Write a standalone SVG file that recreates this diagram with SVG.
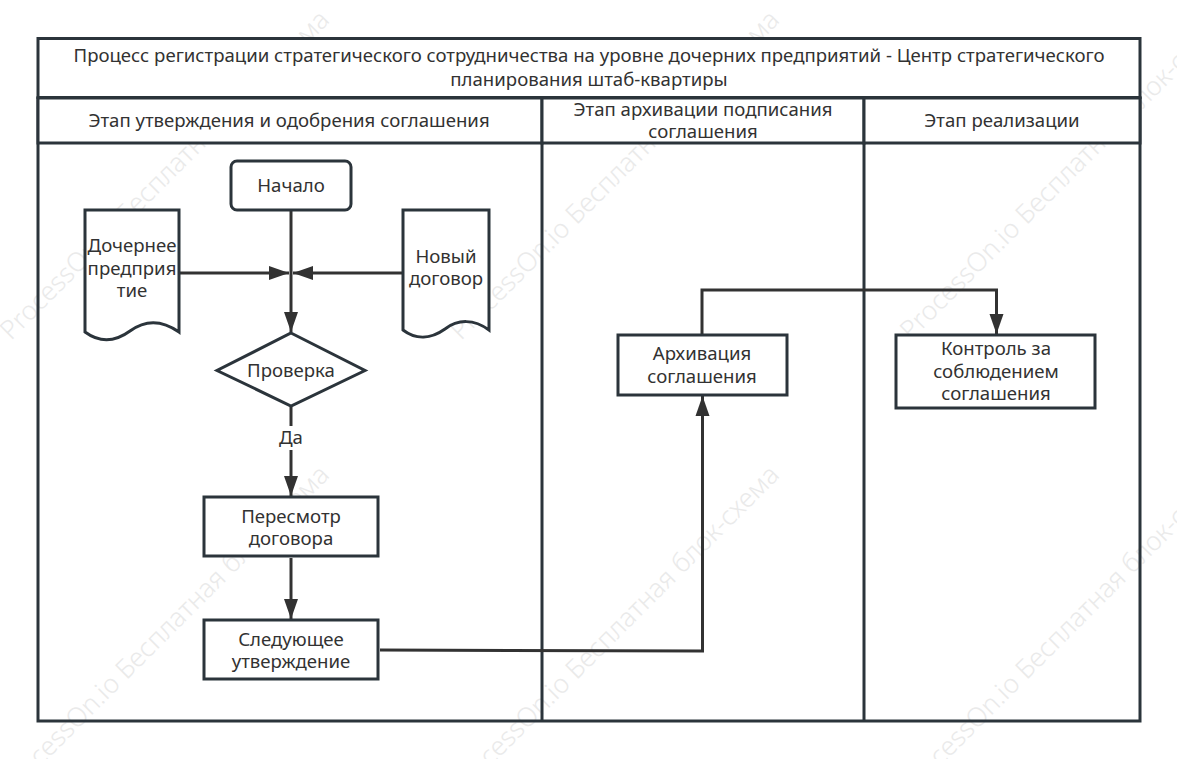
<svg xmlns="http://www.w3.org/2000/svg" width="1177" height="759" viewBox="0 0 1177 759">
<style>
text{font-family:"Noto Sans","Open Sans",sans-serif;font-size:18.6px;fill:#323232;text-anchor:middle}
text.wm{font-size:26.3px;font-weight:300;fill:#eaeaea;text-anchor:start}
.lane{fill:none;stroke:#2b343b;stroke-width:3}
.hd{fill:#fff;stroke:#2b343b;stroke-width:3}
.n{fill:#fff;stroke:#2b343b;stroke-width:3}
.c{fill:none;stroke:#323232;stroke-width:3}
</style>
<defs>
<marker id="a" markerUnits="userSpaceOnUse" markerWidth="20" markerHeight="14" refX="20" refY="7" viewBox="0 0 20 14" orient="auto" overflow="visible"><path d="M0 0L20 7L0 14Z" fill="#323232"/></marker>
</defs>
<g id="watermarks">
<text class="wm" transform="translate(11 341) rotate(-45)">ProcessOn.io Бесплатная блок-схема</text>
<text class="wm" transform="translate(461 341) rotate(-45)">ProcessOn.io Бесплатная блок-схема</text>
<text class="wm" transform="translate(911 341) rotate(-45)">ProcessOn.io Бесплатная блок-схема</text>
<text class="wm" transform="translate(11 796) rotate(-45)">ProcessOn.io Бесплатная блок-схема</text>
<text class="wm" transform="translate(461 796) rotate(-45)">ProcessOn.io Бесплатная блок-схема</text>
<text class="wm" transform="translate(911 796) rotate(-45)">ProcessOn.io Бесплатная блок-схема</text>
</g>
<g id="pool">
<rect class="lane" x="38" y="98" width="1102" height="623"/>
<rect class="hd" x="38" y="38.500" width="1102" height="59"/>
<rect class="hd" x="38" y="98" width="504" height="45"/>
<rect class="hd" x="542" y="98" width="322" height="45"/>
<rect class="hd" x="864" y="98" width="276" height="45"/>
<path class="lane" d="M542 143V721M864 143V721"/>
<text x="589" y="62">Процесс регистрации стратегического сотрудничества на уровне дочерних предприятий - Центр стратегического</text>
<text x="589" y="86">планирования штаб-квартиры</text>
<text x="289" y="127">Этап утверждения и одобрения соглашения</text>
<text x="703" y="116">Этап архивации подписания</text>
<text x="703" y="138">соглашения</text>
<text x="1002" y="127">Этап реализации</text>
</g>
<g id="connectors">
<path class="c" d="M291 211V332" marker-end="url(#a)"/>
<path class="c" d="M180 273H289" marker-end="url(#a)"/>
<path class="c" d="M402 273H293" marker-end="url(#a)"/>
<path class="c" d="M291 407V426"/>
<path class="c" d="M291 450V496" marker-end="url(#a)"/>
<path class="c" d="M291 558V619" marker-end="url(#a)"/>
<path class="c" d="M380 650L702.500 651V396" marker-end="url(#a)"/>
<path class="c" d="M702 334V290H996.500V334" marker-end="url(#a)"/>
<text x="291" y="444">Да</text>
</g>
<g id="start"><rect class="n" x="231" y="161" width="120" height="49" rx="6"/><text x="291" y="192">Начало</text></g>
<g id="subsidiary"><path class="n" d="M85 210H179V332C162 320 145 320 130 331C115 342 100 343 85 332Z"/><text x="132" y="252">Дочернее</text><text x="132" y="275">предприя</text><text x="132" y="297">тие</text></g>
<g id="contract"><path class="n" d="M403 210H489V330C474 319 458 319 445 329C431 339 416 340 403 330Z"/><text x="446" y="263">Новый</text><text x="446" y="285">договор</text></g>
<g id="check"><path class="n" d="M291 333L365 370.500L291 406L217 370.500Z"/><text x="291" y="377">Проверка</text></g>
<g id="review"><rect class="n" x="204" y="497" width="174" height="59"/><text x="291" y="523">Пересмотр</text><text x="291" y="545">договора</text></g>
<g id="next"><rect class="n" x="204" y="620" width="174" height="59"/><text x="291" y="646">Следующее</text><text x="291" y="668">утверждение</text></g>
<g id="archive"><rect class="n" x="618" y="335" width="169" height="60"/><text x="702" y="360">Архивация</text><text x="702" y="383">соглашения</text></g>
<g id="control"><rect class="n" x="896" y="335" width="199" height="73"/><text x="996" y="355">Контроль за</text><text x="996" y="378">соблюдением</text><text x="996" y="400">соглашения</text></g>
</svg>
